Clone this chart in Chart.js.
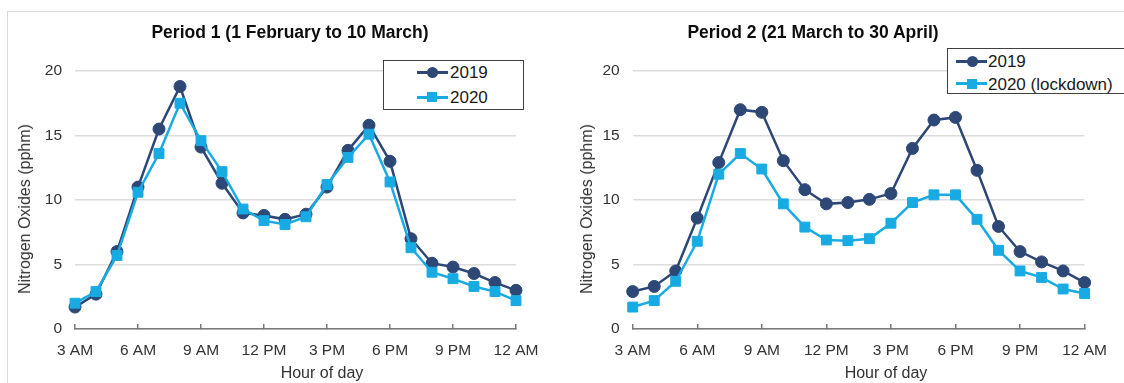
<!DOCTYPE html>
<html><head><meta charset="utf-8">
<script src="https://cdn.jsdelivr.net/npm/chart.js@4.4.1/dist/chart.umd.min.js"></script>
<style>
html,body{margin:0;padding:0;background:#fff;width:1124px;height:383px;overflow:hidden;}
body{position:relative;font-family:"Liberation Sans",Arial,sans-serif;}
.frame{position:absolute;left:7px;top:11px;width:1300px;height:500px;border-left:1.5px solid #d9d9d9;border-top:1.5px solid #d9d9d9;}
canvas{position:absolute;top:0;}
.title{position:absolute;font-weight:bold;font-size:17.5px;line-height:1;white-space:nowrap;transform:translate(-50%,-50%);color:#0d0d0d;}
.axt{position:absolute;font-size:16px;line-height:1;white-space:nowrap;transform:translate(-50%,-50%);color:#333;}
.axt.v{transform:translate(-50%,-50%) rotate(-90deg);}
.legend{position:absolute;border:1.5px solid #404040;background:#fff;box-sizing:border-box;}
.lg{position:absolute;}
.lgtext{position:absolute;font-size:17px;line-height:1;white-space:nowrap;transform:translateY(-50%);color:#1a1a1a;}
</style>
</head><body>
<div class="frame"></div>
<canvas id="c1" width="560" height="383" style="left:0px"></canvas>
<canvas id="c2" width="564" height="383" style="left:560px"></canvas>
<div class="title" style="left:290px;top:33px">Period 1 (1 February to 10 March)</div>
<div class="title" style="left:813px;top:33px">Period 2 (21 March to 30 April)</div>
<div class="axt" style="left:322px;top:373px">Hour of day</div>
<div class="axt" style="left:886px;top:373px">Hour of day</div>
<div class="axt v" style="left:25px;top:209px">Nitrogen Oxides (pphm)</div>
<div class="axt v" style="left:587px;top:209px">Nitrogen Oxides (pphm)</div>
<script>
// ---- data ----
const hours = [3,4,5,6,7,8,9,10,11,12,13,14,15,16,17,18,19,20,21,22,23,24];
const tickHours = [3,6,9,12,15,18,21,24];
const tickLabels = ['3 AM','6 AM','9 AM','12 PM','3 PM','6 PM','9 PM','12 AM'];
const yTicks = [0,5,10,15,20];
const period1_2019 = [1.7,2.7,6.0,11.0,15.5,18.8,14.1,11.3,9.0,8.8,8.5,8.9,11.0,13.85,15.8,13.0,7.0,5.1,4.8,4.3,3.6,3.0];
const period1_2020 = [2.0,2.9,5.7,10.6,13.6,17.5,14.6,12.2,9.3,8.4,8.1,8.7,11.2,13.3,15.1,11.4,6.3,4.4,3.9,3.3,2.9,2.2];
const period2_2019 = [2.9,3.3,4.5,8.6,12.9,17.0,16.8,13.05,10.8,9.7,9.8,10.05,10.5,14.0,16.2,16.4,12.3,7.95,6.0,5.2,4.5,3.6];
const period2_2020 = [1.7,2.2,3.7,6.8,12.0,13.6,12.4,9.7,7.9,6.9,6.85,7.0,8.2,9.8,10.4,10.4,8.5,6.1,4.5,4.0,3.1,2.75];
const period1Names = ['2019','2020'];
const period2Names = ['2019','2020 (lockdown)'];

const NAVY = '#2D4776';
const CYAN = '#18ABE3';
const FAMILY = '"Liberation Sans", Arial, sans-serif';

function makeChart(id, a, b, names, padL, padR, yWidth) {
  return new Chart(document.getElementById(id), {
    type: 'line',
    data: {
      datasets: [
        {label: names[0], data: hours.map((h,i)=>({x:h,y:a[i]})), borderColor: NAVY, backgroundColor: NAVY,
         pointBackgroundColor: NAVY, pointBorderColor: NAVY, pointStyle: 'circle', pointRadius: 6, pointBorderWidth: 1,
         borderWidth: 2.5, tension: 0, order: 1, clip: false},
        {label: names[1], data: hours.map((h,i)=>({x:h,y:b[i]})), borderColor: CYAN, backgroundColor: CYAN,
         pointBackgroundColor: CYAN, pointBorderColor: CYAN, pointStyle: 'rect', pointRadius: 7, pointBorderWidth: 1,
         borderWidth: 2.5, tension: 0, order: 0, clip: false}
      ]
    },
    options: {
      responsive: false, animation: false, events: [],
      layout: {padding: {left: padL, right: padR, top: 71, bottom: 0}},
      plugins: {legend: {display: false}, title: {display: false}, tooltip: {enabled: false}},
      scales: {
        x: {
          type: 'linear', min: 3, max: 24,
          afterBuildTicks: s => { s.ticks = tickHours.map(v => ({value: v})); },
          afterFit: s => { s.height = 54; },
          ticks: {callback: v => tickLabels[tickHours.indexOf(v)], font: {family: FAMILY, size: 15.5}, color: '#333',
                  padding: 17, maxRotation: 0, autoSkip: false},
          grid: {drawOnChartArea: false, drawTicks: true, tickLength: -5, color: '#7a7a7a', lineWidth: 1.5},
          border: {display: true, color: '#7a7a7a', width: 1.5},
          title: {display: false}
        },
        y: {
          min: 0, max: 20,
          afterBuildTicks: s => { s.ticks = yTicks.map(v => ({value: v})); },
          afterFit: s => { s.width = yWidth; },
          ticks: {font: {family: FAMILY, size: 15.5}, color: '#333', padding: 13},
          grid: {color: '#dcdcdc', lineWidth: 1.5, drawTicks: false},
          border: {display: false},
          title: {display: false}
        }
      }
    }
  });
}

makeChart('c1', period1_2019, period1_2020, period1Names, 10, 44, 65);
makeChart('c2', period2_2019, period2_2020, period2Names, 12, 25.5, 60.7);

function legend(box, rows, lineX1, lineX2, markX, textX) {
  const d = document.createElement('div');
  d.className = 'legend';
  Object.assign(d.style, {left: box[0]+'px', top: box[1]+'px', width: box[2]+'px', height: box[3]+'px'});
  document.body.appendChild(d);
  rows.forEach(r => {
    const ln = document.createElement('div');
    ln.className = 'lg';
    Object.assign(ln.style, {left: lineX1+'px', top: (r.cy-1.5)+'px', width: (lineX2-lineX1)+'px', height: '3px', background: r.color});
    document.body.appendChild(ln);
    const mk = document.createElement('div');
    mk.className = 'lg';
    const s = r.shape === 'circle' ? 11 : 10;
    Object.assign(mk.style, {left: (markX-s/2)+'px', top: (r.cy-s/2)+'px', width: s+'px', height: s+'px', background: r.color,
      borderRadius: r.shape === 'circle' ? '50%' : '0'});
    document.body.appendChild(mk);
    const t = document.createElement('div');
    t.className = 'lgtext';
    t.textContent = r.label;
    Object.assign(t.style, {left: textX+'px', top: r.cy+'px'});
    document.body.appendChild(t);
  });
}
legend([383,60,141,50], [{label: period1Names[0], color: NAVY, shape: 'circle', cy: 72}, {label: period1Names[1], color: CYAN, shape: 'rect', cy: 97}], 417, 448, 432, 450);
legend([947,48,200,46], [{label: period2Names[0], color: NAVY, shape: 'circle', cy: 61}, {label: period2Names[1], color: CYAN, shape: 'rect', cy: 83.5}], 956, 987, 972, 988);
</script>
</body></html>
